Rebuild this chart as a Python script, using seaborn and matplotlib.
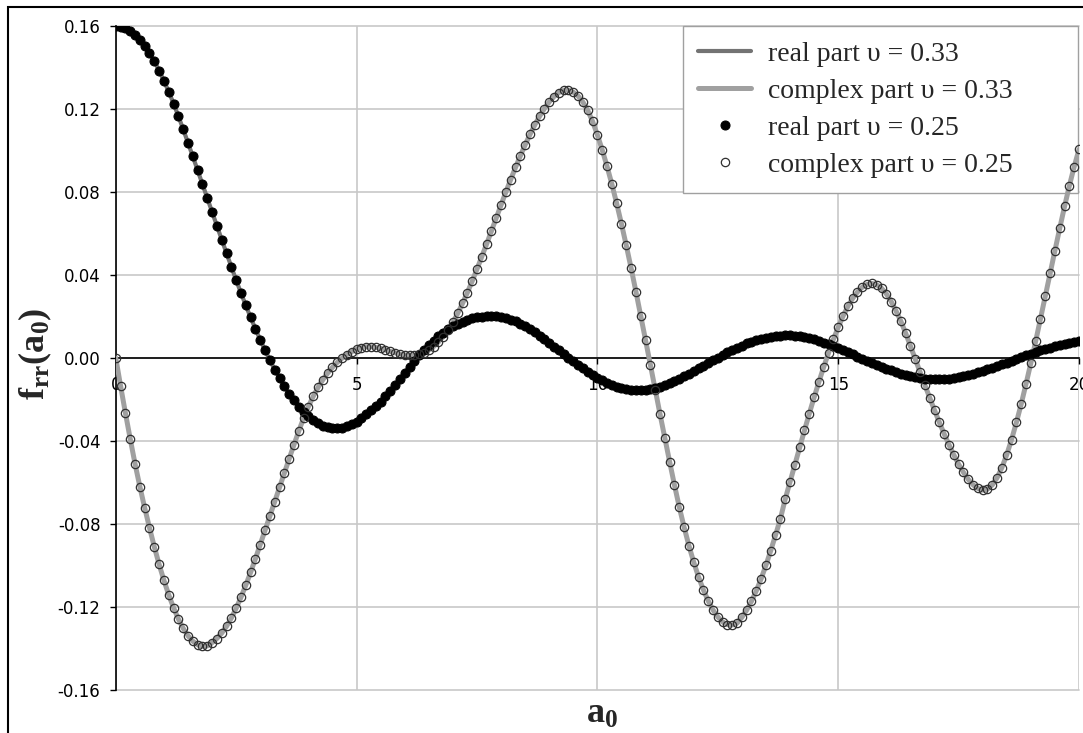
import numpy as np
import pandas as pd
import matplotlib
matplotlib.use("Agg")
import matplotlib.pyplot as plt
import seaborn as sns
from matplotlib.patches import Rectangle
from matplotlib.font_manager import FontProperties

# ---------------- data ----------------
a0 = [round(i * 0.1, 1) for i in range(201)]   # a0 = 0.0, 0.1, ... 20.0

real_v025 = [
    0.1600, 0.1597, 0.1589, 0.1576, 0.1558, 0.1534, 0.1505, 0.1470, 0.1430, 0.1385,
    0.1335, 0.1283, 0.1226, 0.1165, 0.1102, 0.1037, 0.0971, 0.0904, 0.0837, 0.0770,
    0.0703, 0.0636, 0.0570, 0.0504, 0.0439, 0.0375, 0.0313, 0.0253, 0.0195, 0.0140,
    0.0087, 0.0037, -0.0011, -0.0056, -0.0098, -0.0137, -0.0173, -0.0205, -0.0234, -0.0260,
    -0.0282, -0.0300, -0.0315, -0.0326, -0.0334, -0.0338, -0.0339, -0.0336, -0.0330, -0.0320,
    -0.0307, -0.0291, -0.0272, -0.0251, -0.0231, -0.0210, -0.0185, -0.0158, -0.0130, -0.0101,
    -0.0072, -0.0043, -0.0014, 0.0013, 0.0038, 0.0062, 0.0084, 0.0104, 0.0122, 0.0138,
    0.0153, 0.0165, 0.0175, 0.0184, 0.0191, 0.0196, 0.0199, 0.0201, 0.0201, 0.0200,
    0.0197, 0.0192, 0.0185, 0.0176, 0.0165, 0.0153, 0.0139, 0.0124, 0.0108, 0.0091,
    0.0073, 0.0055, 0.0037, 0.0019, 0.0001, -0.0016, -0.0033, -0.0050, -0.0066, -0.0081,
    -0.0095, -0.0108, -0.0120, -0.0130, -0.0139, -0.0146, -0.0151, -0.0154, -0.0156, -0.0156,
    -0.0154, -0.0150, -0.0145, -0.0138, -0.0130, -0.0121, -0.0111, -0.0100, -0.0088, -0.0076,
    -0.0063, -0.0050, -0.0037, -0.0024, -0.0011, 0.0002, 0.0015, 0.0027, 0.0039, 0.0050,
    0.0060, 0.0070, 0.0078, 0.0086, 0.0093, 0.0098, 0.0103, 0.0106, 0.0108, 0.0109,
    0.0109, 0.0107, 0.0104, 0.0100, 0.0095, 0.0089, 0.0082, 0.0074, 0.0066, 0.0057,
    0.0047, 0.0037, 0.0027, 0.0017, 0.0006, -0.0004, -0.0014, -0.0024, -0.0034, -0.0043,
    -0.0052, -0.0060, -0.0068, -0.0075, -0.0081, -0.0087, -0.0092, -0.0096, -0.0099, -0.0101,
    -0.0102, -0.0102, -0.0101, -0.0099, -0.0096, -0.0092, -0.0087, -0.0082, -0.0076, -0.0069,
    -0.0062, -0.0055, -0.0047, -0.0039, -0.0031, -0.0023, -0.0014, -0.0005, 0.0004, 0.0012,
    0.0021, 0.0029, 0.0036, 0.0043, 0.0050, 0.0056, 0.0062, 0.0067, 0.0072, 0.0076,
    0.0080,
]

complex_v025 = [
    0.0000, -0.0135, -0.0265, -0.0390, -0.0510, -0.0620, -0.0722, -0.0818, -0.0910, -0.0995,
    -0.1072, -0.1142, -0.1204, -0.1258, -0.1303, -0.1339, -0.1365, -0.1382, -0.1390, -0.1388,
    -0.1372, -0.1352, -0.1326, -0.1293, -0.1253, -0.1206, -0.1153, -0.1095, -0.1033, -0.0967,
    -0.0899, -0.0830, -0.0761, -0.0692, -0.0624, -0.0555, -0.0486, -0.0418, -0.0352, -0.0290,
    -0.0234, -0.0185, -0.0142, -0.0105, -0.0073, -0.0045, -0.0021, -0.0001, 0.0016, 0.0030,
    0.0042, 0.0050, 0.0054, 0.0054, 0.0051, 0.0046, 0.0039, 0.0032, 0.0025, 0.0019,
    0.0015, 0.0013, 0.0014, 0.0018, 0.0026, 0.0038, 0.0055, 0.0077, 0.0103, 0.0134,
    0.0171, 0.0215, 0.0263, 0.0315, 0.0370, 0.0428, 0.0488, 0.0549, 0.0612, 0.0675,
    0.0738, 0.0800, 0.0860, 0.0918, 0.0974, 0.1027, 0.1077, 0.1123, 0.1165, 0.1202,
    0.1234, 0.1260, 0.1279, 0.1290, 0.1290, 0.1281, 0.1262, 0.1233, 0.1193, 0.1140,
    0.1075, 0.1003, 0.0924, 0.0838, 0.0745, 0.0646, 0.0542, 0.0433, 0.0320, 0.0204,
    0.0086, -0.0033, -0.0152, -0.0270, -0.0386, -0.0500, -0.0612, -0.0718, -0.0815, -0.0904,
    -0.0984, -0.1055, -0.1117, -0.1170, -0.1214, -0.1248, -0.1272, -0.1285, -0.1287, -0.1278,
    -0.1250, -0.1215, -0.1172, -0.1122, -0.1064, -0.0999, -0.0928, -0.0853, -0.0775, -0.0680,
    -0.0597, -0.0514, -0.0431, -0.0349, -0.0268, -0.0190, -0.0115, -0.0043, 0.0025, 0.0089,
    0.0148, 0.0201, 0.0248, 0.0287, 0.0318, 0.0341, 0.0355, 0.0359, 0.0353, 0.0336,
    0.0309, 0.0272, 0.0227, 0.0178, 0.0120, 0.0058, -0.0005, -0.0068, -0.0131, -0.0192,
    -0.0252, -0.0310, -0.0366, -0.0418, -0.0467, -0.0512, -0.0551, -0.0585, -0.0611, -0.0629,
    -0.0637, -0.0632, -0.0612, -0.0577, -0.0528, -0.0466, -0.0393, -0.0311, -0.0222, -0.0125,
    -0.0025, 0.0080, 0.0188, 0.0298, 0.0408, 0.0517, 0.0625, 0.0730, 0.0830, 0.0922,
    0.1005,
]

# the v = 0.33 curves coincide with the v = 0.25 ones at this scale
real_v033 = list(real_v025)
complex_v033 = list(complex_v025)

series_labels = ["real part \u03c5 = 0.33", "complex part \u03c5 = 0.33",
                 "real part \u03c5 = 0.25", "complex part \u03c5 = 0.25"]

x_ticks = [0, 5, 10, 15, 20]
x_tick_labels = ["0", "5", "10", "15", "20"]
y_ticks = [-0.16, -0.12, -0.08, -0.04, 0.0, 0.04, 0.08, 0.12, 0.16]
y_tick_labels = ["-0.16", "-0.12", "-0.08", "-0.04", "0.00", "0.04", "0.08", "0.12", "0.16"]

# ---------------- styling ----------------
sns.set_style("white")
plt.rcParams["font.family"] = ["DejaVu Sans"]
plt.rcParams["mathtext.fontset"] = "custom"
plt.rcParams["mathtext.rm"] = "Liberation Serif"
plt.rcParams["mathtext.bf"] = "Liberation Serif:bold"
plt.rcParams["mathtext.it"] = "Liberation Serif:italic"

fig = plt.figure(figsize=(10.83, 7.33), dpi=100)
fig.patch.set_facecolor("white")
ax = fig.add_axes([0.1069, 0.0587, 0.8894, 0.9059])

df = pd.DataFrame({"a0": a0, "r033": real_v033, "c033": complex_v033,
                   "r025": real_v025, "c025": complex_v025})

sns.lineplot(data=df, x="a0", y="r033", ax=ax, color="#737373", linewidth=3.0,
             label=series_labels[0], zorder=3)
sns.lineplot(data=df, x="a0", y="c033", ax=ax, color="#a0a0a0", linewidth=3.6,
             label=series_labels[1], zorder=3)
sns.lineplot(data=df, x="a0", y="r025", ax=ax, color="black", linestyle="none",
             marker="o", markersize=6.5, markerfacecolor="black",
             markeredgecolor="black", label=series_labels[2], zorder=4)
sns.lineplot(data=df, x="a0", y="c025", ax=ax, color="#303030", linestyle="none",
             marker="o", markersize=6.0, markerfacecolor="none",
             markeredgecolor="#303030", markeredgewidth=0.9,
             label=series_labels[3], zorder=5)

ax.set_xlim(0, 20)
ax.set_ylim(-0.16, 0.16)
ax.set_xticks(x_ticks)
ax.set_xticklabels(x_tick_labels)
ax.set_yticks(y_ticks)
ax.set_yticklabels(y_tick_labels)

ax.grid(True, color="#c8c8c8", linewidth=1.2)
ax.set_axisbelow(True)
for gl in ax.get_xgridlines() + ax.get_ygridlines():
    gl.set_clip_on(False)

ax.spines["top"].set_visible(False)
ax.spines["right"].set_visible(False)
ax.spines["bottom"].set_position(("data", 0))
ax.spines["bottom"].set_color("black")
ax.spines["bottom"].set_linewidth(1.2)
ax.spines["left"].set_color("black")
ax.spines["left"].set_linewidth(1.2)

ax.tick_params(axis="x", direction="out", length=4, width=1, pad=9,
               labelsize=12, colors="black", bottom=True)
ax.tick_params(axis="y", direction="out", length=4, width=1, pad=7,
               labelsize=12, colors="black", left=True)

ax.set_xlabel(r"$\mathbf{a_0}$", fontsize=26)
ax.set_ylabel(r"$\mathbf{f_{rr}(a_0)}$", fontsize=26)
ax.xaxis.label.set_va("center")
ax.yaxis.label.set_va("center")
ax.xaxis.set_label_coords(0.505, -0.034)
ax.yaxis.set_label_coords(-0.083, 0.506)

leg_x0 = (683 - 115.8) / 963.2
leg = ax.legend(loc="upper right", bbox_to_anchor=(leg_x0, 0.0, 0.999 - leg_x0, 1.0),
                mode="expand", borderaxespad=0,
                frameon=True, fancybox=False, framealpha=1, edgecolor="#a0a0a0",
                prop=FontProperties(family="Liberation Serif", size=20),
                handlelength=1.9, handletextpad=0.6, labelspacing=0.42,
                borderpad=0.55, numpoints=1)
leg.get_frame().set_linewidth(1.0)
leg.set_zorder(2.8)   # curves near a0 = 20 run over the legend box, as in the reference

# outer chart-area border (left and top edges visible in the reference)
fig.patches.append(Rectangle((8 / 1083, -0.1), 2.0, 1.1 - 7 / 733,
                             transform=fig.transFigure, fill=False,
                             edgecolor="black", linewidth=1.5))

fig.savefig("out.png", dpi=100, facecolor="white")
